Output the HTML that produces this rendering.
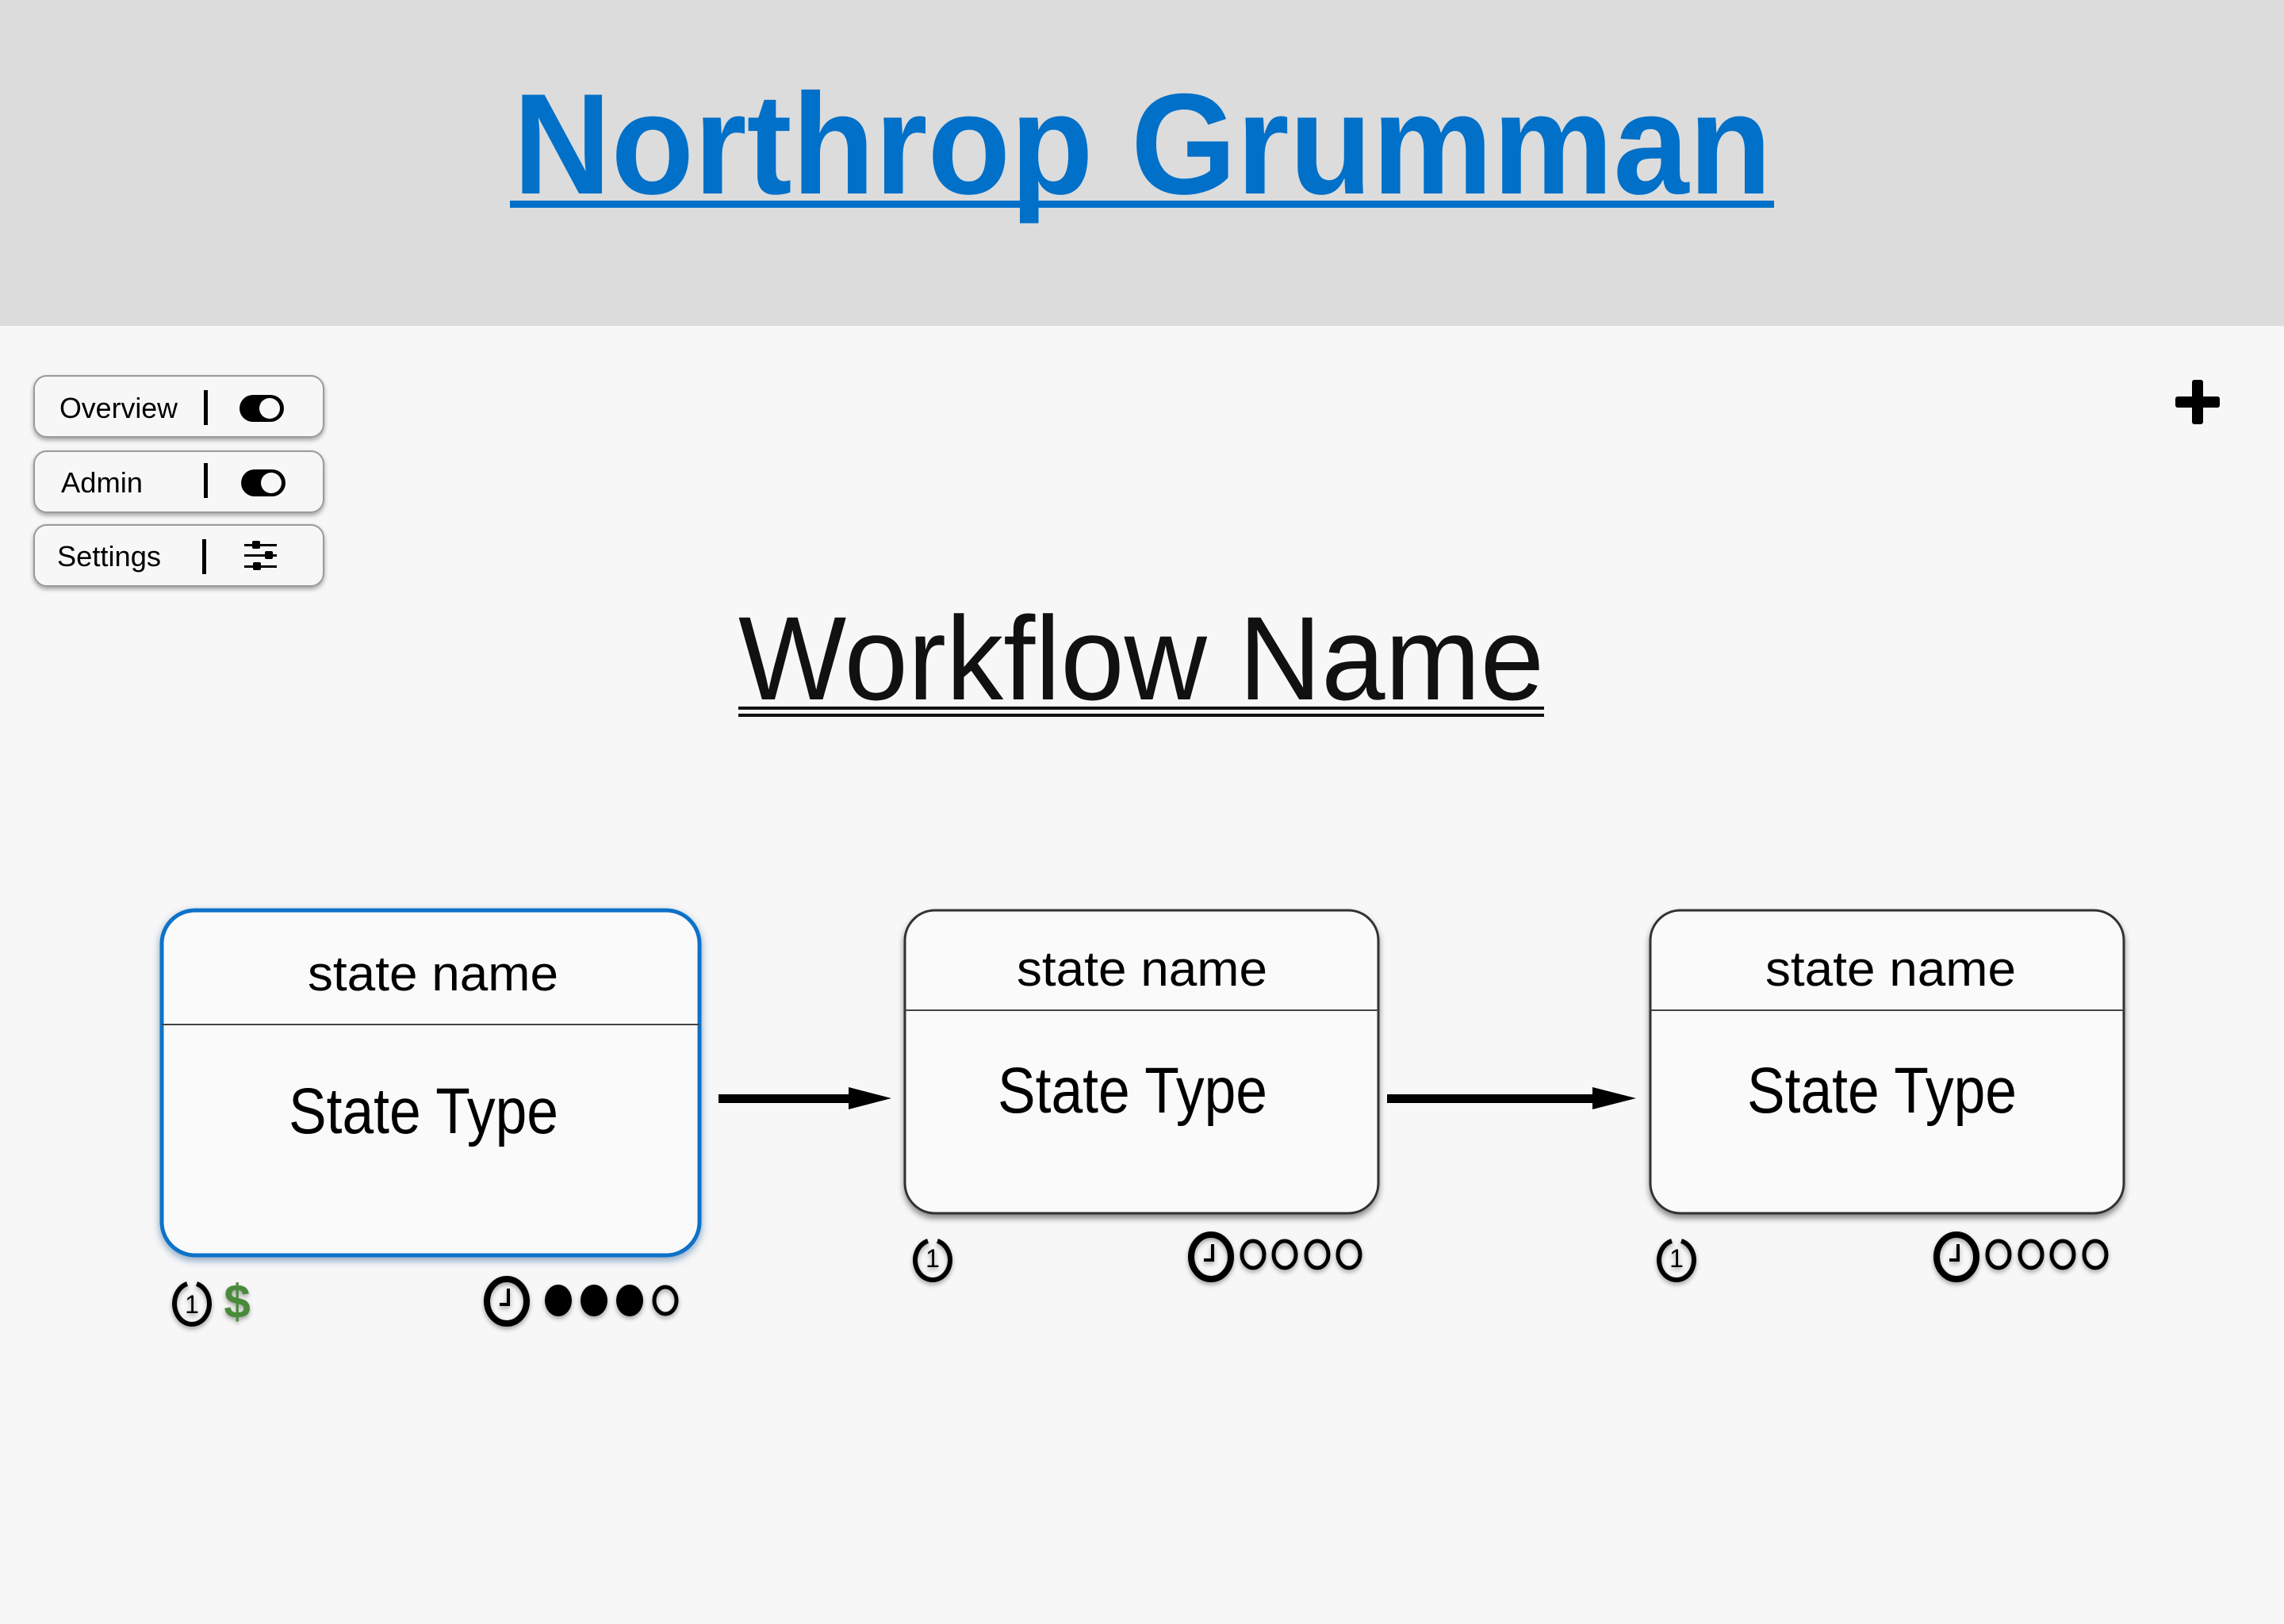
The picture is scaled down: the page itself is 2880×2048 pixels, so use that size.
<!DOCTYPE html>
<html><head><meta charset="utf-8"><style>
html,body{margin:0;padding:0;background:#f8f7f8;}
svg{display:block;}
text{font-family:"Liberation Sans",sans-serif;}
</style></head><body>
<svg width="2880" height="2048" viewBox="0 0 2880 2048" xmlns="http://www.w3.org/2000/svg">
<defs>
<filter id="sh" x="-10%" y="-10%" width="120%" height="130%"><feDropShadow dx="0" dy="5" stdDeviation="4" flood-color="#000" flood-opacity="0.45"/></filter>
<filter id="shb" x="-10%" y="-10%" width="120%" height="130%"><feDropShadow dx="0" dy="4" stdDeviation="5" flood-color="#0a4a88" flood-opacity="0.5"/></filter>
<filter id="shs" x="-20%" y="-20%" width="140%" height="160%"><feDropShadow dx="0" dy="3" stdDeviation="3" flood-color="#000" flood-opacity="0.35"/></filter>
</defs>
<rect x="0" y="0" width="2880" height="2048" fill="#f8f7f8"/>
<rect x="0" y="0" width="2880" height="411" fill="#dcdcdc"/>
<text x="647" y="244" font-size="181" font-weight="bold" fill="#0070c8" textLength="1587" lengthAdjust="spacingAndGlyphs">Northrop Grumman</text>
<rect x="643" y="253" width="1594" height="9" fill="#0070c8"/>

<!-- buttons -->
<g filter="url(#shs)">
<rect x="43" y="474" width="365" height="77" rx="16" fill="#f8f7f8" stroke="#9a9a9a" stroke-width="2"/>
<rect x="43" y="569" width="365" height="77" rx="16" fill="#f8f7f8" stroke="#9a9a9a" stroke-width="2"/>
<rect x="43" y="662" width="365" height="77" rx="16" fill="#f8f7f8" stroke="#9a9a9a" stroke-width="2"/>
</g>
<text x="75" y="527" font-size="36" textLength="149" lengthAdjust="spacingAndGlyphs">Overview</text>
<text x="77" y="621" font-size="36" textLength="103" lengthAdjust="spacingAndGlyphs">Admin</text>
<text x="72" y="714" font-size="36" textLength="131" lengthAdjust="spacingAndGlyphs">Settings</text>
<rect x="257" y="492" width="5" height="44" fill="#000"/>
<rect x="257" y="584" width="5" height="44" fill="#000"/>
<rect x="255" y="680" width="5" height="44" fill="#000"/>
<rect x="302" y="498" width="56" height="34" rx="17" fill="#000"/>
<circle cx="340" cy="515" r="13" fill="#f8f7f8"/>
<rect x="304" y="592" width="56" height="34" rx="17" fill="#000"/>
<circle cx="342" cy="609" r="13" fill="#f8f7f8"/>
<g fill="#000">
<rect x="308" y="686" width="41" height="3"/><rect x="318" y="682" width="10" height="10" rx="2"/>
<rect x="308" y="699" width="41" height="3"/><rect x="334" y="695" width="10" height="10" rx="2"/>
<rect x="308" y="713" width="41" height="3"/><rect x="319" y="709" width="10" height="10" rx="2"/>
</g>

<!-- plus -->
<rect x="2743" y="500" width="56" height="14" rx="3" fill="#000"/>
<rect x="2764" y="479" width="14" height="56" rx="3" fill="#000"/>

<!-- Workflow title -->
<text x="931" y="882" font-size="150" fill="#111" textLength="1016" lengthAdjust="spacingAndGlyphs">Workflow Name</text>
<rect x="931" y="891" width="1016" height="4" fill="#111"/>
<rect x="931" y="900" width="1016" height="4" fill="#111"/>

<!-- box1 -->
<rect x="204" y="1148" width="678" height="435" rx="42" fill="#fafafa" stroke="#0a72c8" stroke-width="5" filter="url(#shb)"/>
<line x1="204" y1="1292" x2="882" y2="1292" stroke="#444" stroke-width="2"/>
<text x="388" y="1249" font-size="62" textLength="316" lengthAdjust="spacingAndGlyphs">state name</text>
<text x="364" y="1429" font-size="82" textLength="340" lengthAdjust="spacingAndGlyphs">State Type</text>

<!-- box2 -->
<rect x="1141" y="1148" width="597" height="382" rx="38" fill="#fafafa" stroke="#333" stroke-width="3" filter="url(#sh)"/>
<line x1="1141" y1="1274" x2="1738" y2="1274" stroke="#444" stroke-width="2"/>
<text x="1282" y="1243" font-size="62" textLength="316" lengthAdjust="spacingAndGlyphs">state name</text>
<text x="1258" y="1403" font-size="82" textLength="340" lengthAdjust="spacingAndGlyphs">State Type</text>

<!-- box3 -->
<rect x="2081" y="1148" width="597" height="382" rx="38" fill="#fafafa" stroke="#333" stroke-width="3" filter="url(#sh)"/>
<line x1="2081" y1="1274" x2="2678" y2="1274" stroke="#444" stroke-width="2"/>
<text x="2226" y="1243" font-size="62" textLength="316" lengthAdjust="spacingAndGlyphs">state name</text>
<text x="2203" y="1403" font-size="82" textLength="340" lengthAdjust="spacingAndGlyphs">State Type</text>

<!-- arrows -->
<rect x="906" y="1380" width="175" height="11" fill="#000"/>
<polygon points="1070,1371 1124,1385 1070,1399" fill="#000"/>
<rect x="1749" y="1380" width="270" height="11" fill="#000"/>
<polygon points="2008,1371 2063,1385 2008,1399" fill="#000"/>

<!-- icons box1 -->
<g filter="url(#shs)">
<path d="M236 1619 A22 26 0 1 0 248 1619" fill="none" stroke="#000" stroke-width="6"/>
<text x="242" y="1656" font-size="32" text-anchor="middle" font-family="Liberation Serif,serif">1</text>
<text x="299" y="1662" font-size="60" font-weight="bold" fill="#4a8a3a" text-anchor="middle">$</text>
<ellipse cx="639" cy="1641" rx="25" ry="28" fill="none" stroke="#000" stroke-width="8"/>
<path d="M641 1625 V1645 H630" fill="none" stroke="#000" stroke-width="4"/>
<ellipse cx="704" cy="1640" rx="17" ry="20" fill="#000"/>
<ellipse cx="749" cy="1640" rx="17" ry="20" fill="#000"/>
<ellipse cx="794" cy="1640" rx="17" ry="20" fill="#000"/>
<ellipse cx="839" cy="1640" rx="14" ry="17" fill="none" stroke="#000" stroke-width="5"/>
</g>

<!-- icons box2 -->
<g filter="url(#shs)">
<path d="M1170 1565 A22 25 0 1 0 1182 1565" fill="none" stroke="#000" stroke-width="6"/>
<text x="1176" y="1598" font-size="32" text-anchor="middle" font-family="Liberation Serif,serif">1</text>
<ellipse cx="1527" cy="1585" rx="25" ry="28" fill="none" stroke="#000" stroke-width="8"/>
<path d="M1529 1569 V1589 H1518" fill="none" stroke="#000" stroke-width="4"/>
<ellipse cx="1580" cy="1582" rx="14" ry="17" fill="none" stroke="#000" stroke-width="5"/>
<ellipse cx="1620" cy="1582" rx="14" ry="17" fill="none" stroke="#000" stroke-width="5"/>
<ellipse cx="1661" cy="1582" rx="14" ry="17" fill="none" stroke="#000" stroke-width="5"/>
<ellipse cx="1701" cy="1582" rx="14" ry="17" fill="none" stroke="#000" stroke-width="5"/>
</g>

<!-- icons box3 -->
<g filter="url(#shs)">
<path d="M2108 1565 A22 25 0 1 0 2120 1565" fill="none" stroke="#000" stroke-width="6"/>
<text x="2114" y="1598" font-size="32" text-anchor="middle" font-family="Liberation Serif,serif">1</text>
<ellipse cx="2467" cy="1585" rx="25" ry="28" fill="none" stroke="#000" stroke-width="8"/>
<path d="M2469 1569 V1589 H2458" fill="none" stroke="#000" stroke-width="4"/>
<ellipse cx="2520" cy="1582" rx="14" ry="17" fill="none" stroke="#000" stroke-width="5"/>
<ellipse cx="2561" cy="1582" rx="14" ry="17" fill="none" stroke="#000" stroke-width="5"/>
<ellipse cx="2601" cy="1582" rx="14" ry="17" fill="none" stroke="#000" stroke-width="5"/>
<ellipse cx="2642" cy="1582" rx="14" ry="17" fill="none" stroke="#000" stroke-width="5"/>
</g>
</svg>
</body></html>
